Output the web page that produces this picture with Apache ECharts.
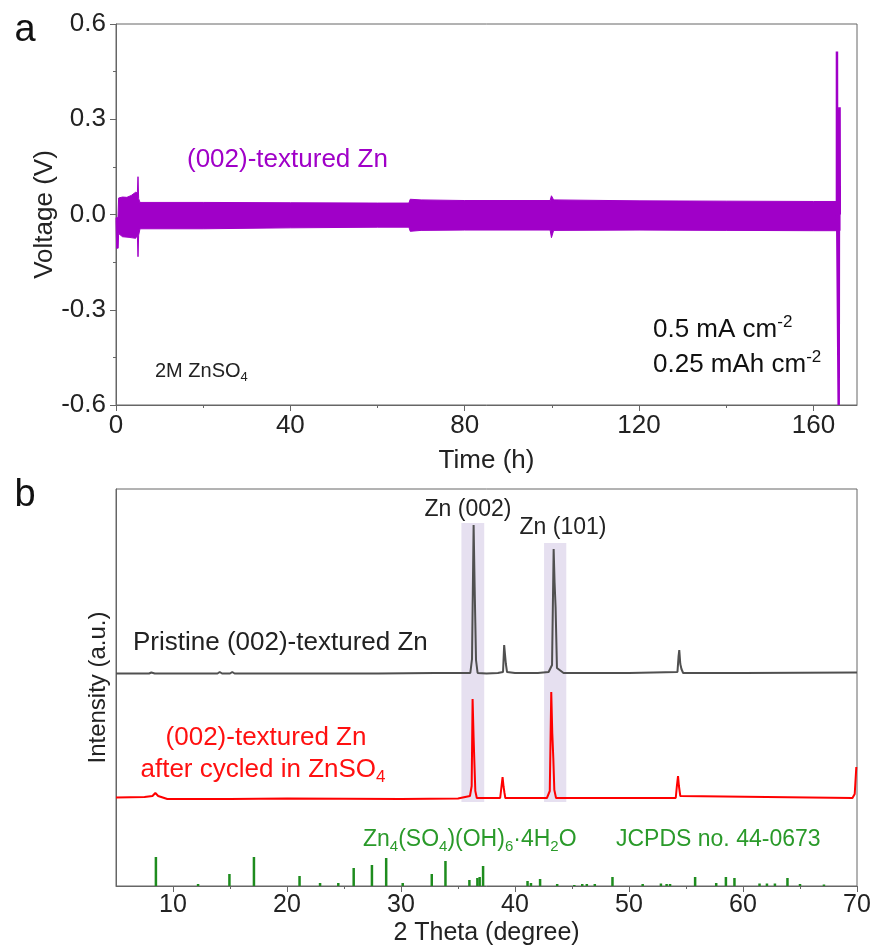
<!DOCTYPE html>
<html><head><meta charset="utf-8">
<script src="https://cdn.jsdelivr.net/npm/echarts@6/dist/echarts.min.js"></script>
<style>html,body{margin:0;padding:0;background:#fff}#c{width:874px;height:949px}</style>
</head><body><div id="c"></div>
<script>
// ---------- Panel a: voltage profile envelope (time h, voltage V) ----------
const voltUpper = [[0.0,-0.01],[0.45,-0.01],[0.6,0.052],[1.5,0.055],[2.5,0.054],[3.5,0.06],[4.5,0.07],[4.9,0.068],[5.05,0.119],[5.2,0.05],[5.5,0.038],[20,0.038],[40,0.037],[60,0.036],[67.2,0.036],[67.5,0.048],[70,0.046],[80,0.044],[99.6,0.044],[99.9,0.059],[100.4,0.046],[120,0.043],[140,0.042],[160,0.041],[166.1,0.041]];
const voltLower = [[0.0,-0.02],[0.15,-0.106],[0.5,-0.106],[0.6,-0.06],[1.5,-0.07],[3.0,-0.072],[4.5,-0.075],[4.9,-0.065],[5.05,-0.133],[5.2,-0.065],[5.5,-0.045],[20,-0.045],[40,-0.042],[60,-0.04],[67.2,-0.04],[67.5,-0.053],[70,-0.05],[80,-0.049],[99.6,-0.049],[99.9,-0.073],[100.4,-0.05],[120,-0.049],[140,-0.05],[160,-0.051],[166.1,-0.051]];
const voltSpike = [[165.4,0.0],[165.4,0.513],[165.45,0.0],[165.8,0.0],[165.8,-0.6],[165.85,0.0],[166.0,0.0],[166.0,0.338],[166.05,0.0]];
const timeTicks = [0,40,80,120,160];
const timeMinor = [20,60,100,140];

// ---------- Panel b: XRD (2 theta deg, intensity a.u.) ----------
const pristine = [[5,212.5],[7.9,212.5],[8.1,213.5],[8.4,212.5],[13.9,212.5],[14.1,214],[14.3,212.5],[15.0,212.5],[15.2,214],[15.4,212.5],[28,212.5],[33,213],[35.5,213],[36.08,213],[36.23,227],[36.37,361],[36.46,299],[36.52,263],[36.58,226],[36.72,213],[37.5,212.5],[38.5,213],[38.95,214],[39.05,241],[39.12,232],[39.2,222],[39.3,214],[40,213],[42.0,213],[42.95,214],[43.25,221],[43.39,337],[43.47,304],[43.56,279],[43.68,218],[44.26,213],[50,213],[54.25,214],[54.35,230],[54.41,236],[54.5,222],[54.6,217],[54.75,213],[60,213],[70,213.5]];
const cycled = [[5,88.5],[7.5,89],[8.2,90],[8.45,93],[8.7,90],[9.5,87],[15,87],[20,87.5],[30,87],[35,87.5],[36.05,90],[36.2,100],[36.28,187],[36.37,148],[36.43,126],[36.52,95],[36.65,88],[38.7,88],[38.82,100],[38.91,109],[39.0,99],[39.08,93],[39.15,88],[42.8,88],[43.05,95],[43.18,194],[43.27,153],[43.36,128],[43.45,96],[43.6,88],[54.1,88],[54.2,100],[54.3,110],[54.38,100],[54.5,90],[54.6,88],[69.6,88],[69.8,92],[69.94,119],[70,119]];
const refPeaks = [[8.5,29],[12.2,2],[14.95,12],[17.1,29],[21.1,10],[22.9,3],[24.5,3],[25.85,18],[27.45,21],[28.7,28],[30.15,3],[32.7,12],[33.9,25],[36.0,6],[36.7,8],[36.9,9],[37.2,20],[41.1,5],[41.4,3],[42.2,7],[43.7,2],[45.2,1],[45.9,2],[46.3,2],[47.0,2],[48.55,9],[51.2,2],[52.8,2.5],[53.3,2],[53.6,2],[55.8,9],[57.65,3],[58.5,9],[59.25,8],[61.45,2.5],[62.1,2.5],[62.8,2.5],[63.9,8],[65.0,2],[67.1,1.5]];
const highlightBands = [[35.3,37.3,84,363],[42.55,44.5,84,343]];
const thetaTicks = [10,20,30,40,50,60,70];
const thetaMinor = [15,25,35,45,55,65];

const FONT = '"Liberation Sans", Arial, sans-serif';
const AX = '#666';
const PURPLE = '#a000c8';

const chart = echarts.init(document.getElementById('c'), null, {renderer:'canvas'});

function txt(x, y, text, size, color, align) {
  const r = {
    m: {fontSize: size, lineHeight: size + 6, fontFamily: FONT, fill: color},
    sub: {fontSize: Math.round(size*0.65), lineHeight: Math.round(size*0.65), verticalAlign: 'bottom', fontFamily: FONT, fill: color},
    sup: {fontSize: Math.round(size*0.65), lineHeight: Math.round(size*0.65), verticalAlign: 'top', fontFamily: FONT, fill: color}
  };
  return {type:'text', x:x, y:y, z:100, style:{text:text, fontSize:size, fontFamily:FONT, fill:color, align:align||'left', verticalAlign:'middle', rich: r}};
}

const option = {
  animation: false,
  backgroundColor: '#fff',
  grid: [
    {left:116, top:24, width:741, height:381, show:true, borderColor:AX, borderWidth:1},
    {left:116, top:489, width:741, height:397, show:true, borderColor:AX, borderWidth:1}
  ],
  xAxis: [
    {gridIndex:0, type:'value', min:0, max:170,
     axisLine:{onZero:false, lineStyle:{color:AX}}, splitLine:{show:false},
     axisTick:{customValues:timeTicks, length:6, lineStyle:{color:AX}},
     axisLabel:{customValues:timeTicks, fontSize:26, color:'#222', fontFamily:FONT, margin:8},
     name:'Time (h)', nameLocation:'middle', nameGap:43, nameMoveOverlap:false,
     nameTextStyle:{fontSize:26, color:'#222', fontFamily:FONT}},
    {gridIndex:0, type:'value', min:0, max:170, position:'bottom',
     axisLine:{show:false, onZero:false}, splitLine:{show:false}, axisLabel:{show:false},
     axisTick:{customValues:timeMinor, length:3, lineStyle:{color:AX}}},
    {gridIndex:1, type:'value', min:5, max:70,
     axisLine:{onZero:false, lineStyle:{color:AX}}, splitLine:{show:false},
     axisTick:{customValues:thetaTicks, length:6, lineStyle:{color:AX}},
     axisLabel:{customValues:thetaTicks, fontSize:25, color:'#222', fontFamily:FONT, margin:7},
     name:'2 Theta (degree)', nameLocation:'middle', nameGap:35, nameMoveOverlap:false,
     nameTextStyle:{fontSize:25, color:'#222', fontFamily:FONT}},
    {gridIndex:1, type:'value', min:5, max:70, position:'bottom',
     axisLine:{show:false, onZero:false}, splitLine:{show:false}, axisLabel:{show:false},
     axisTick:{customValues:thetaMinor, length:3, lineStyle:{color:AX}}}
  ],
  yAxis: [
    {gridIndex:0, type:'value', min:-0.6, max:0.6, interval:0.3,
     axisLine:{show:true, onZero:false, lineStyle:{color:AX}}, splitLine:{show:false},
     axisTick:{show:true, length:6, lineStyle:{color:AX}},
     minorTick:{show:true, splitNumber:2, length:3, lineStyle:{color:AX}},
     axisLabel:{fontSize:26, color:'#222', fontFamily:FONT, margin:10, formatter:v=>v.toFixed(1)},
     name:'Voltage (V)', nameLocation:'middle', nameGap:58, nameMoveOverlap:false,
     nameTextStyle:{fontSize:26, color:'#222', fontFamily:FONT}},
    {gridIndex:1, type:'value', min:0, max:397,
     axisLine:{show:true, onZero:false, lineStyle:{color:AX}}, splitLine:{show:false},
     axisTick:{show:false}, axisLabel:{show:false},
     name:'Intensity (a.u.)', nameLocation:'middle', nameGap:6, nameMoveOverlap:false,
     nameTextStyle:{fontSize:24, color:'#222', fontFamily:FONT}}
  ],
  series: [
    {type:'custom', name:'voltage', xAxisIndex:0, yAxisIndex:0, data:voltUpper, encode:{x:0,y:1}, z:3, silent:true,
     renderItem:function(params, api){
       if (params.dataIndex !== 0) return null;
       const pts = voltUpper.map(p=>api.coord(p)).concat(voltLower.slice().reverse().map(p=>api.coord(p)));
       return {type:'polygon', shape:{points:pts}, style:{fill:PURPLE, stroke:PURPLE, lineWidth:1}};
     }},
    {type:'line', name:'spike', xAxisIndex:0, yAxisIndex:0, data:voltSpike, showSymbol:false, symbol:'none',
     lineStyle:{color:PURPLE, width:2.5}, z:4, silent:true},
    {type:'custom', name:'bands', xAxisIndex:2, yAxisIndex:1, data:highlightBands, encode:{x:[0,1], y:[2,3]}, z:1, silent:true,
     renderItem:function(params, api){
       const p0 = api.coord([api.value(0), api.value(2)]);
       const p1 = api.coord([api.value(1), api.value(3)]);
       return {type:'rect', shape:{x:p0[0], y:p1[1], width:p1[0]-p0[0], height:p0[1]-p1[1]}, style:{fill:'#e6e0f0'}};
     }},
    {type:'line', name:'pristine', xAxisIndex:2, yAxisIndex:1, data:pristine, showSymbol:false, symbol:'none',
     lineStyle:{color:'#505050', width:2}, z:3, silent:true},
    {type:'line', name:'cycled', xAxisIndex:2, yAxisIndex:1, data:cycled, showSymbol:false, symbol:'none',
     lineStyle:{color:'#ff0000', width:2}, z:3, silent:true},
    {type:'bar', name:'ref', xAxisIndex:2, yAxisIndex:1, data:refPeaks, barWidth:2.5,
     itemStyle:{color:'#1e8c1e'}, z:3, silent:true}
  ],
  graphic: [
    txt(25, 31, 'a', 38, '#111', 'center'),
    txt(25, 496, 'b', 38, '#111', 'center'),
    txt(187, 160, '(002)-textured Zn', 26, PURPLE, 'left'),
    txt(155, 371, '{m|2M ZnSO}{sub|4}', 20, '#222', 'left'),
    txt(653, 330, '{m|0.5 mA cm}{sup|-2}', 26, '#111', 'left'),
    txt(653, 365, '{m|0.25 mAh cm}{sup|-2}', 26, '#111', 'left'),
    txt(468, 510, 'Zn (002)', 23, '#222', 'center'),
    txt(563, 528, 'Zn (101)', 23, '#222', 'center'),
    txt(133, 643, 'Pristine (002)-textured Zn', 26, '#222', 'left'),
    txt(266, 738, '(002)-textured Zn', 26, '#ff1010', 'center'),
    txt(263, 770, '{m|after cycled in ZnSO}{sub|4}', 26, '#ff1010', 'center'),
    txt(363, 840, '{m|Zn}{sub|4}{m|(SO}{sub|4}{m|)(OH)}{sub|6}{m|·4H}{sub|2}{m|O}', 23, '#2a9a2a', 'left'),
    txt(616, 840, 'JCPDS no. 44-0673', 23, '#2a9a2a', 'left')
  ]
};
chart.setOption(option);
</script>
</body></html>
